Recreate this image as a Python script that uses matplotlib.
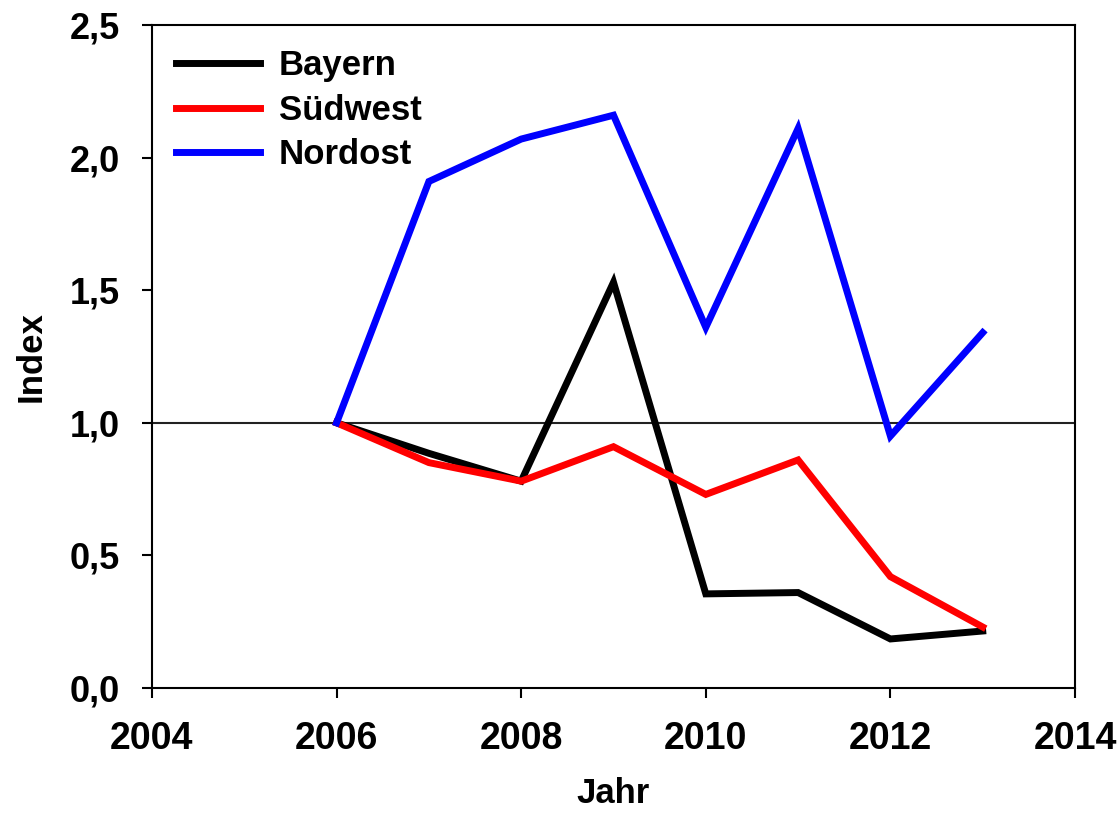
import matplotlib
matplotlib.use("Agg")
import matplotlib.pyplot as plt
from matplotlib.ticker import FuncFormatter

years = [2006, 2007, 2008, 2009, 2010, 2011, 2012, 2013]
bayern = [1.00, 0.885, 0.78, 1.53, 0.355, 0.36, 0.185, 0.215]
suedwest = [1.00, 0.85, 0.78, 0.91, 0.73, 0.86, 0.42, 0.23]
nordost = [1.00, 1.91, 2.07, 2.16, 1.36, 2.11, 0.95, 1.34]
series_names = ["Bayern", "Südwest", "Nordost"]
series_colors = ["#000000", "#ff0000", "#0000ff"]
xticks = [2004, 2006, 2008, 2010, 2012, 2014]
yticks = [0.0, 0.5, 1.0, 1.5, 2.0, 2.5]

plt.rcParams['font.family'] = ['Liberation Sans', 'DejaVu Sans']
plt.rcParams['font.weight'] = 'bold'

fig = plt.figure(figsize=(11.19, 8.18), dpi=100)
ax = fig.add_axes([0.1358, 0.1589, 0.8249, 0.8105])

ax.axhline(1.0, color='#222222', lw=1.5, zorder=1)
for vals, name, col in zip([bayern, suedwest, nordost], series_names, series_colors):
    ax.plot(years, vals, color=col, lw=5, label=name, solid_joinstyle='miter', zorder=3)

ax.set_xlim(2004, 2014)
ax.set_ylim(0, 2.5)
ax.set_xticks(xticks)
ax.set_yticks(yticks)
ax.yaxis.set_major_formatter(FuncFormatter(lambda v, p: f"{v:.1f}".replace('.', ',')))
ax.tick_params(axis='both', direction='out', length=7, width=1.5)
ax.tick_params(axis='x', pad=17, labelsize=27)
ax.tick_params(axis='y', pad=16, labelsize=26)
for lab in ax.get_xticklabels() + ax.get_yticklabels():
    lab.set_fontweight('bold')
for s in ax.spines.values():
    s.set_linewidth(1.5)

ax.set_xlabel("Jahr", fontsize=25, fontweight='bold', labelpad=14)
ax.set_ylabel("Index", fontsize=25, fontweight='bold', labelpad=16)

leg = ax.legend(loc='upper left', bbox_to_anchor=(0.0, 1.0), frameon=False,
                fontsize=25, handlelength=2.4, handletextpad=0.55,
                labelspacing=0.33, borderaxespad=0.3)
for t in leg.get_texts():
    t.set_fontweight('bold')

fig.savefig("out.png", dpi=100)
